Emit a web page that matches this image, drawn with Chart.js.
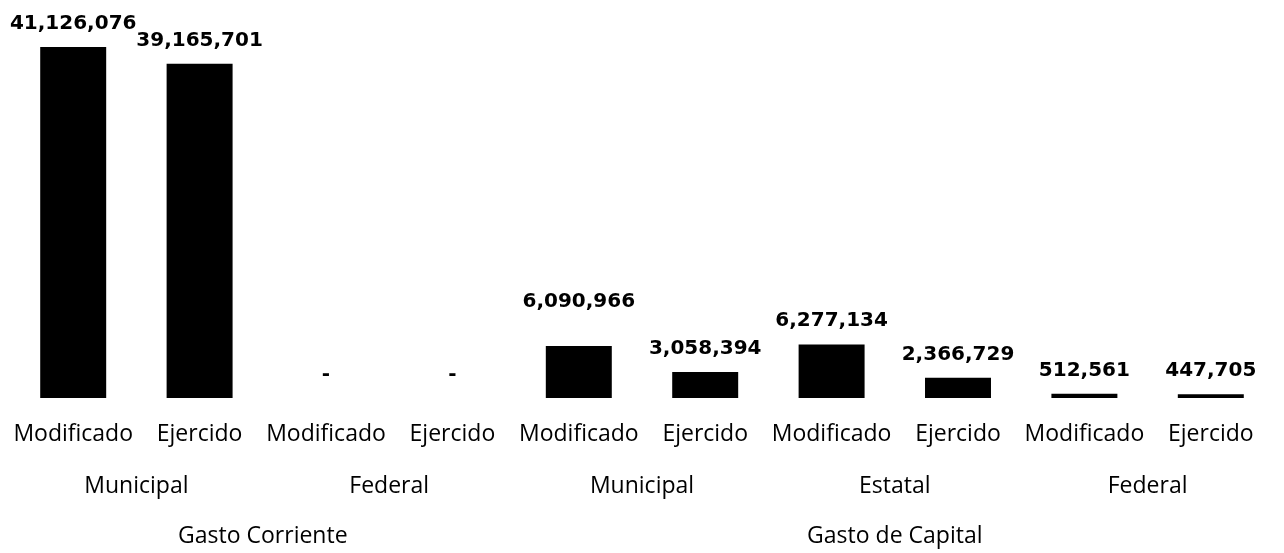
<!DOCTYPE html>
<html>
<head>
<meta charset="utf-8">
<script src="https://cdn.jsdelivr.net/npm/chart.js@4"></script>
<style>
    html, body { margin: 0; padding: 0; background: #fff; }
    #wrap { width: 1284px; height: 553px; }
</style>
</head>
<body>
<div id="wrap"><canvas id="main-chart"></canvas></div>
<script>
// Chart data
const categories = ['Modificado', 'Ejercido', 'Modificado', 'Ejercido', 'Modificado', 'Ejercido', 'Modificado', 'Ejercido', 'Modificado', 'Ejercido'];
const values = [41126076, 39165701, 0, 0, 6090966, 3058394, 6277134, 2366729, 512561, 447705];
const subgroups = ['Municipal', 'Federal', 'Municipal', 'Estatal', 'Federal'];
const subgroupSpans = [2, 2, 2, 2, 2];
const groups = ['Gasto Corriente', 'Gasto de Capital'];
const groupSpans = [4, 6];

const labelFont = '23px "Open Sans"';
const valueFont = 'bold 20px "DejaVu Sans"';

// Draws value labels above the bars and the three rows of category labels
const labelsPlugin = {
    id: 'labelsPlugin',
    afterDatasetsDraw(chart) {
        const ctx = chart.ctx;
        const x = chart.scales.x;
        const bottom = chart.chartArea.bottom;
        const meta = chart.getDatasetMeta(0);

        ctx.save();
        ctx.fillStyle = '#000';
        ctx.textAlign = 'center';
        ctx.textBaseline = 'alphabetic';

        // values
        ctx.font = valueFont;
        meta.data.forEach((bar, i) => {
            const v = values[i];
            const text = v ? v.toLocaleString('en-US') : '-';
            const lift = i === 4 ? 39 : 18; // first capital label sits higher
            ctx.fillText(text, bar.x, bar.y - lift);
        });

        // row 1: Modificado / Ejercido
        ctx.font = labelFont;
        categories.forEach((c, i) => {
            ctx.fillText(c, x.getPixelForValue(i), bottom + 43);
        });

        // rows 2 and 3: centered on the span of their categories
        const drawRow = (names, spans, dy) => {
            let start = 0;
            names.forEach((name, k) => {
                const end = start + spans[k] - 1;
                const cx = (x.getPixelForValue(start) + x.getPixelForValue(end)) / 2;
                ctx.fillText(name, cx, bottom + dy);
                start = end + 1;
            });
        };
        drawRow(subgroups, subgroupSpans, 95);
        drawRow(groups, groupSpans, 145);

        ctx.restore();
    }
};

new Chart(document.getElementById('main-chart').getContext('2d'), {
    type: 'bar',
    data: {
        labels: categories,
        datasets: [{
            data: values,
            backgroundColor: '#000',
            borderWidth: 0,
            barPercentage: 0.522,
            categoryPercentage: 1
        }]
    },
    options: {
        responsive: true,
        maintainAspectRatio: false,
        animation: false,
        layout: { padding: { top: 22.5, bottom: 155, left: 10, right: 10 } },
        plugins: { legend: { display: false }, tooltip: { enabled: false } },
        scales: {
            x: { display: false },
            y: { display: false, min: 0, max: 44000000 }
        }
    },
    plugins: [labelsPlugin]
});
</script>
</body>
</html>
